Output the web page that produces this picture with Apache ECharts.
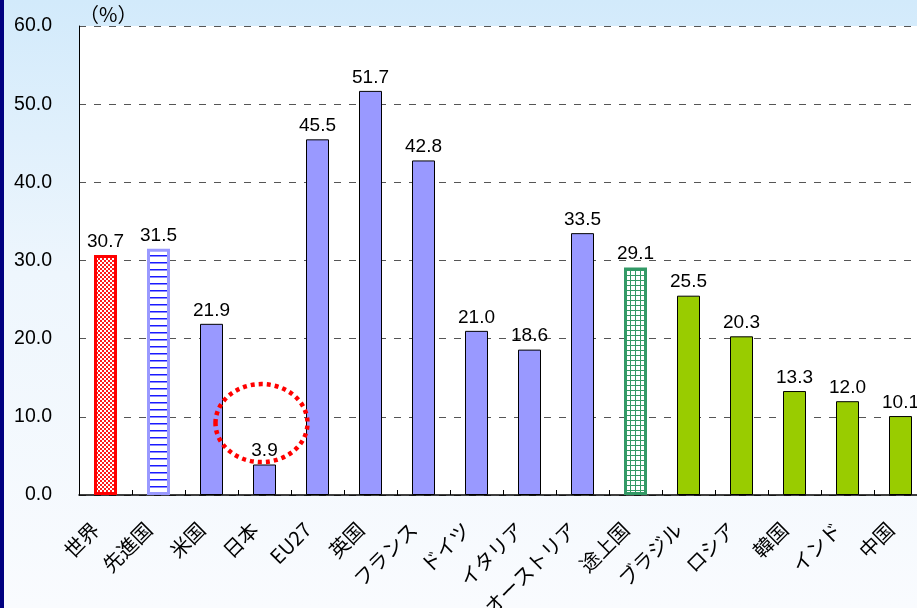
<!DOCTYPE html>
<html>
<head>
<meta charset="utf-8">
<script src="https://cdn.jsdelivr.net/npm/echarts@6/dist/echarts.min.js"></script>
<style>
    html, body { margin: 0; padding: 0; }
    body {
        width: 917px; height: 608px; overflow: hidden;
        background: linear-gradient(to bottom, #d2eafb 0%, #eef6fd 45%, #f9fbfe 100%);
    }
    #edge { position: absolute; left: 0; top: 0; width: 4px; height: 608px; background: #000080; }
    #main { position: absolute; left: 0; top: 0; width: 917px; height: 608px; }
</style>
</head>
<body>
<div id="edge"></div>
<div id="main"></div>
<script>
var categories = ['世界', '先進国', '米国', '日本', 'EU27', '英国', 'フランス', 'ドイツ',
                  'イタリア', 'オーストリア', '途上国', 'ブラジル', 'ロシア', '韓国', 'インド', '中国'];
var values = [30.7, 31.5, 21.9, 3.9, 45.5, 51.7, 42.8, 21.0, 18.6, 33.5, 29.1, 25.5, 20.3, 13.3, 12.0, 10.1];
// which look each bar gets
var groups = ['world', 'advanced', 'adv', 'adv', 'adv', 'adv', 'adv', 'adv',
              'adv', 'adv', 'developing', 'dev', 'dev', 'dev', 'dev', 'dev'];
var yTicks = [0, 10, 20, 30, 40, 50, 60];

function makePattern(w, h, draw)
{
    var c = document.createElement('canvas');
    c.width = w;
    c.height = h;
    var ctx = c.getContext('2d');
    draw(ctx);
    return { image: c, repeat: 'repeat' };
}

var checker = makePattern(4, 4, function (ctx) {
    ctx.fillStyle = '#ffffff';
    ctx.fillRect(0, 0, 4, 4);
    ctx.fillStyle = '#ff1a1a';
    ctx.fillRect(0, 0, 2, 2);
    ctx.fillRect(2, 2, 2, 2);
});
var stripes = makePattern(8, 7, function (ctx) {
    ctx.fillStyle = '#ffffff';
    ctx.fillRect(0, 0, 8, 7);
    ctx.fillStyle = '#1a1aff';
    ctx.fillRect(0, 3, 8, 1.5);
});
var grid5 = makePattern(5, 5, function (ctx) {
    ctx.fillStyle = '#ffffff';
    ctx.fillRect(0, 0, 5, 5);
    ctx.fillStyle = '#339966';
    ctx.fillRect(0, 0, 5, 1);
    ctx.fillRect(0, 0, 1, 5);
});

var styles = {
    world:      { color: checker, borderColor: '#ff0000', borderWidth: 3 },
    advanced:   { color: stripes, borderColor: '#9999ff', borderWidth: 3 },
    adv:        { color: '#9999ff', borderColor: '#000000', borderWidth: 1 },
    developing: { color: grid5, borderColor: '#339966', borderWidth: 3 },
    dev:        { color: '#99cc00', borderColor: '#000000', borderWidth: 1 }
};

var barData = values.map(function (v, i) {
    return { value: v, itemStyle: styles[groups[i]] };
});

var myChart = echarts.init(document.getElementById('main'), null, { renderer: 'canvas' });

var option = {
    backgroundColor: 'transparent',
    animation: false,
    grid: {
        left: 79,
        top: 26,
        width: 848,
        height: 469,
        outerBoundsMode: 'none',
        containLabel: false,
        show: true,
        backgroundColor: '#ffffff',
        borderWidth: 0
    },
    xAxis: {
        type: 'category',
        data: categories,
        axisLine: { lineStyle: { color: '#000', width: 1.5 } },
        axisTick: { show: true, inside: true, length: 5, lineStyle: { color: '#000' } },
        axisLabel: {
            interval: 0,
            rotate: 45,
            margin: 21,
            padding: [0, 14, 0, 0],
            fontSize: 20,
            color: '#000',
            fontFamily: '"Noto Sans CJK JP", sans-serif'
        }
    },
    yAxis: {
        type: 'value',
        min: yTicks[0],
        max: yTicks[yTicks.length - 1],
        interval: 10,
        name: '（%）',
        nameLocation: 'end',
        nameGap: 2,
        nameTextStyle: {
            align: 'left',
            fontSize: 20,
            color: '#000',
            fontFamily: '"Noto Sans CJK JP", sans-serif'
        },
        axisLine: { show: true, lineStyle: { color: '#000', width: 1 } },
        axisTick: { show: false },
        axisLabel: {
            margin: 27,
            fontSize: 19.5,
            color: '#000',
            fontFamily: 'Arial, "Liberation Sans", sans-serif',
            formatter: function (v) { return v.toFixed(1); }
        },
        splitLine: {
            show: true,
            lineStyle: { color: '#555', type: [7, 8], width: 1 }
        }
    },
    series: [
        {
            type: 'bar',
            data: barData,
            barWidth: 23,
            label: {
                show: true,
                position: 'top',
                distance: 4,
                fontSize: 19,
                color: '#000',
                fontFamily: 'Arial, "Liberation Sans", sans-serif',
                formatter: function (p) { return p.value.toFixed(1); }
            }
        }
    ]
};

myChart.setOption(option);

// dotted red ring around Japan
var c = myChart.convertToPixel({ xAxisIndex: 0, yAxisIndex: 0 }, ['日本', 9.2]);
myChart.setOption({
    graphic: [
        {
            type: 'ellipse',
            shape: { cx: c[0] - 3, cy: c[1], rx: 46, ry: 39 },
            style: { fill: 'none', stroke: '#ff0000', lineWidth: 4.5, lineDash: [4, 4] },
            z: 10
        }
    ]
});

window.addEventListener('resize', myChart.resize);
</script>
</body>
</html>
